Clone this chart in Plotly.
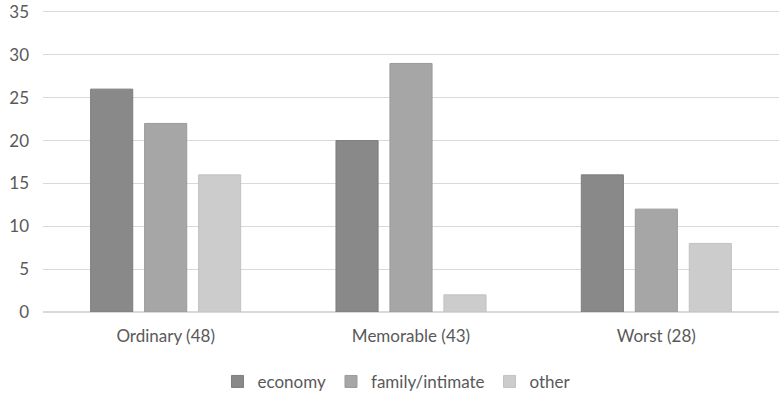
import plotly.graph_objects as go

categories = ["Ordinary (48)", "Memorable (43)", "Worst (28)"]
economy = [26, 20, 16]
family = [22, 29, 12]
other = [16, 2, 8]
series_names = ["economy", "family/intimate", "other"]
colors = ["#898989", "#a6a6a6", "#cccccc"]
line_colors = ["#7d7d7d", "#9a9a9a", "#c2c2c2"]

fig = go.Figure()
for name, vals, c, lc in zip(series_names, [economy, family, other], colors, line_colors):
    fig.add_trace(go.Bar(x=categories, y=vals, name=name, marker=dict(color=c, line=dict(color=lc, width=1))))

fig.update_layout(
    width=780, height=396,
    margin=dict(l=43, r=1, t=12, b=84, autoexpand=False),
    paper_bgcolor="white", plot_bgcolor="white",
    barmode="group", bargap=0.34, bargroupgap=0.22,
    font=dict(family="Lato, Open Sans, sans-serif", size=17, color="#595959"),
    legend=dict(orientation="h", x=0.481, xanchor="center", y=-0.233, yanchor="middle",
                font=dict(size=17, color="#595959"), itemwidth=30, traceorder="normal",
                bgcolor="rgba(0,0,0,0)"),
    xaxis=dict(showgrid=False, showline=True, mirror=True, linecolor="#d9d9d9", linewidth=1, ticks="",
               ticklabelstandoff=9, tickfont=dict(size=17)),
    yaxis=dict(range=[0, 35], dtick=5, showgrid=True, gridcolor="#d9d9d9", gridwidth=1,
               zeroline=True, zerolinecolor="#d9d9d9", ticks="", ticklabelstandoff=13, tickfont=dict(size=17)),
)

fig.write_html("out.html", config={"displayModeBar": False},
               post_script="document.body.style.margin='0px';")
